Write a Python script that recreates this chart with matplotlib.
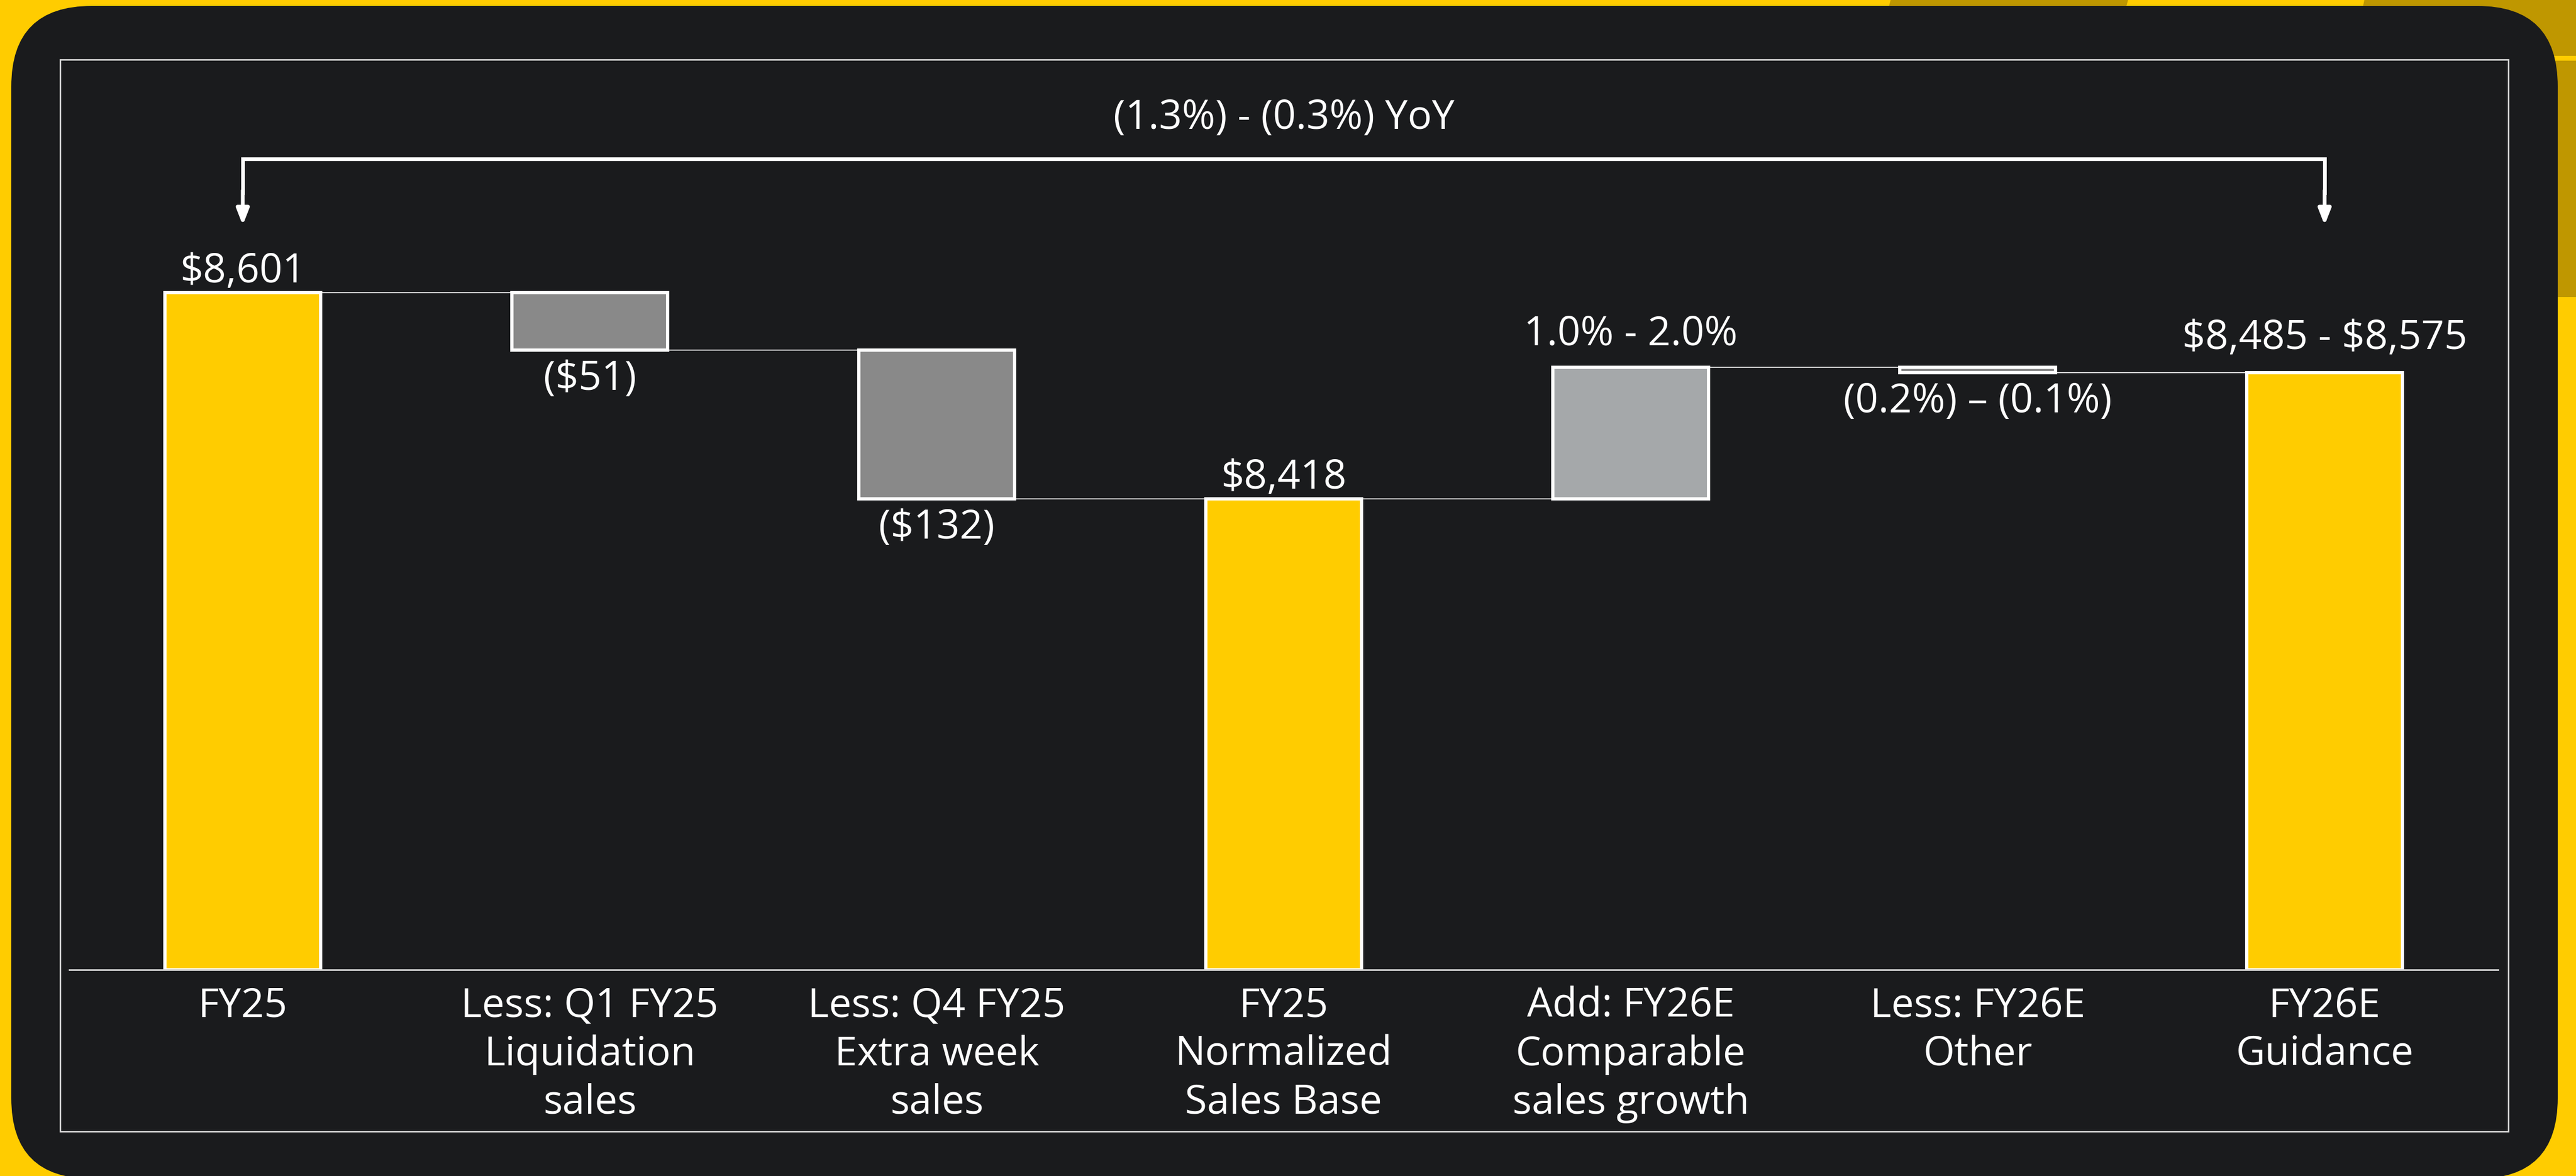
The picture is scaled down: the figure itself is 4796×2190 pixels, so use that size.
import matplotlib
matplotlib.use("Agg")
import matplotlib.pyplot as plt
from matplotlib.patches import FancyBboxPatch, Rectangle, Polygon

plt.rcParams['font.family'] = ['Open Sans', 'DejaVu Sans']
plt.rcParams['text.parse_math'] = False  # labels have two $ signs

# data ($M)
categories = ["FY25", "Less: Q1 FY25\nLiquidation\nsales", "Less: Q4 FY25\nExtra week\nsales",
              "FY25\nNormalized\nSales Base", "Add: FY26E\nComparable\nsales growth",
              "Less: FY26E\nOther", "FY26E\nGuidance"]
kinds = ["total", "delta", "delta", "total", "delta", "delta", "total"]
values = [8601, -51, -132, 8418, 117, -5, 8530]
value_labels = ["$8,601", "($51)", "($132)", "$8,418", "1.0% - 2.0%",
                "(0.2%) \u2013 (0.1%)", "$8,485 - $8,575"]
yoy_label = "(1.3%) - (0.3%) YoY"
y_floor = 8000

YELLOW = "#FFCC00"
DARK = "#1A1B1D"
GOLD = "#BF9700"

W, H, DPI = 4796, 2190, 200
fig = plt.figure(figsize=(W / DPI, H / DPI), dpi=DPI)
fig.patch.set_facecolor(YELLOW)

# background layer in pixel coords
bg = fig.add_axes([0, 0, 1, 1])
bg.set_xlim(0, W)
bg.set_ylim(H, 0)
bg.axis("off")
bg.add_patch(Polygon([(3520, 0), (3962, 0), (3930, 120), (3488, 120)], color=GOLD, lw=0))
bg.add_patch(Polygon([(4402, 0), (4796, 0), (4796, 104), (4380, 104)], color=GOLD, lw=0))
bg.add_patch(Polygon([(4700, 113), (4796, 113), (4796, 553), (4700, 553)], color=GOLD, lw=0))
bg.add_patch(FancyBboxPatch((21, 11), 4741, 2184, boxstyle="round,pad=0,rounding_size=150",
                            facecolor=DARK, edgecolor="none"))
bg.add_patch(Rectangle((112, 111), 4558, 1996, fill=False, edgecolor="#D9D9D9", lw=1.0))

# chart
ax = fig.add_axes([129 / W, 1 - 1806 / H, 4522 / W, 1695 / H])
ax.set_facecolor("none")
ax.set_xlim(-0.5, 6.5)
ax.set_ylim(y_floor, 8808)

bar_w = 0.45
level = 0
bottoms, tops, levels, colors = [], [], [], []
for k, v in zip(kinds, values):
    if k == "total":
        b, t = y_floor, v
        level = v
        c = YELLOW
    else:
        b, t = sorted([level, level + v])
        level += v
        c = "#A5A8AA" if v > 0 else "#898989"
    bottoms.append(b)
    tops.append(t)
    levels.append(level)
    colors.append(c)

x = list(range(len(categories)))
ax.bar(x, [t - b for t, b in zip(tops, bottoms)], bottom=bottoms, width=bar_w,
       color=colors, edgecolor="white", linewidth=2.2, zorder=2)

# connectors
for i in range(len(x) - 1):
    ax.plot([i + bar_w / 2, i + 1 - bar_w / 2], [levels[i], levels[i]],
            color="#D8D8D8", lw=0.75, zorder=1)

# value labels
above_pad = {0: 7, 3: 7, 4: 15, 6: 16}
for i, lab in enumerate(value_labels):
    if kinds[i] == "total" or values[i] > 0:
        ax.annotate(lab, (i, tops[i]), xytext=(0, above_pad.get(i, 7)), textcoords="offset points",
                    ha="center", va="baseline", color="white", fontsize=27)
    else:
        ax.annotate(lab, (i, bottoms[i]), xytext=(0, -6), textcoords="offset points",
                    ha="center", va="top", color="white", fontsize=27)

# YoY bracket
ax.plot([0, 0, 6, 6], [8690, 8720, 8720, 8690], color="white", lw=2.5,
        solid_joinstyle="miter", clip_on=False, zorder=3)
for xi in (0, 6):
    ax.annotate("", xy=(xi, 8661), xytext=(xi, 8692),
                arrowprops=dict(arrowstyle="-|>,head_length=0.9,head_width=0.35",
                                color="white", lw=2.5, shrinkA=0, shrinkB=0))
ax.text(3, 8756, yoy_label, ha="center", va="center", color="white", fontsize=27)

ax.set_xticks(x)
ax.set_xticklabels(categories, color="white", fontsize=27, linespacing=1.26)
ax.tick_params(axis="x", length=0, pad=11)
ax.set_yticks([])
for s in ("top", "left", "right"):
    ax.spines[s].set_visible(False)
ax.spines["bottom"].set_color("#D0D0D0")
ax.spines["bottom"].set_linewidth(1.1)
ax.spines["bottom"].set_zorder(3)

fig.savefig("out.png", dpi=DPI, facecolor=YELLOW)
